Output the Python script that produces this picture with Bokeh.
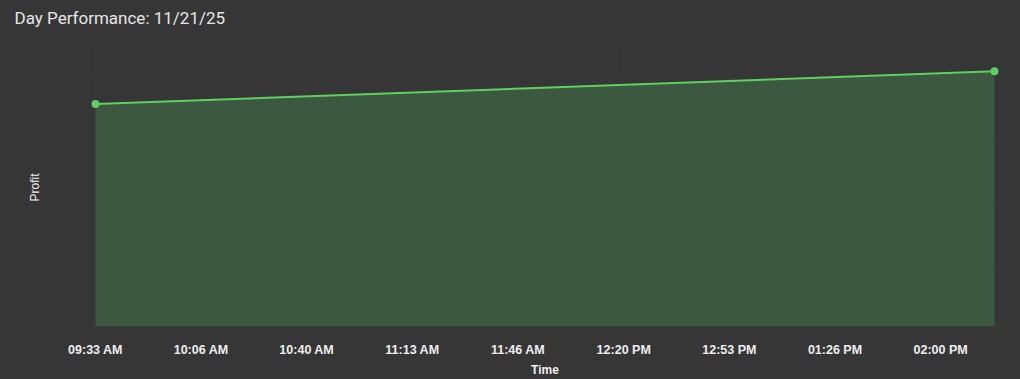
from datetime import datetime, timedelta
from bokeh.plotting import figure
from bokeh.models import FixedTicker, DatetimeTickFormatter, Range1d, Title
from bokeh.embed import file_html
from bokeh.resources import INLINE

# data
times = [datetime(2025, 11, 21, 9, 33, 30), datetime(2025, 11, 21, 14, 17, 18)]
profit = [360.0, 413.0]
tick_times = [datetime(2025, 11, 21, 9, 33, 30) + timedelta(seconds=2001 * i) for i in range(9)]
title_text = "Day Performance: 11/21/25"

BG = "#363636"
pad = timedelta(seconds=190)

p = figure(width=1020, height=379, x_axis_type="datetime", output_backend="svg",
           toolbar_location=None, title=title_text,
           min_border_left=85, min_border_right=16, min_border_top=0, min_border_bottom=51)
p.styles = {"background-color": BG}
p.x_range = Range1d(times[0] - pad, times[-1] + pad)
p.y_range = Range1d(0, 450)
p.background_fill_color = BG
p.border_fill_color = BG

# spacer between title and plot area
spacer = Title(text=" ", text_font_size="12.5px", standoff=0)
p.add_layout(spacer, "above")

p.varea(x=times, y1=[0, 0], y2=profit, fill_color="#3d5840", fill_alpha=1.0)
p.line(times, profit, line_color="#5fcf60", line_width=2)
p.scatter(times, profit, size=8, fill_color="#5fcf60", line_color=None)

p.title.text_color = "#e6e6e6"
p.title.text_font = "Roboto"
p.title.text_font_size = "17px"
p.title.text_font_style = "normal"
p.title.offset = -71

xa = p.xaxis[0]
xa.ticker = FixedTicker(ticks=[t.timestamp() * 1000 for t in tick_times])
xa.formatter = DatetimeTickFormatter(seconds="%I:%M %p", minsec="%I:%M %p", minutes="%I:%M %p",
                                     hourmin="%I:%M %p", hours="%I:%M %p", days="%I:%M %p")
xa.axis_label = "Time"
xa.axis_line_color = None
xa.major_tick_line_color = None
xa.minor_tick_line_color = None
xa.major_tick_out = 0
xa.major_tick_in = 0
xa.minor_tick_out = 0
xa.major_label_text_color = "#eeeeee"
xa.major_label_text_font = "Liberation Sans"
xa.major_label_text_font_size = "12.5px"
xa.major_label_text_font_style = "bold"
xa.major_label_standoff = 16
xa.axis_label_text_color = "#eeeeee"
xa.axis_label_text_font = "Liberation Sans"
xa.axis_label_text_font_size = "12px"
xa.axis_label_text_font_style = "bold"
xa.axis_label_standoff = 3

ya = p.yaxis[0]
ya.axis_label = "Profit"
ya.axis_line_color = None
ya.major_tick_line_color = None
ya.minor_tick_line_color = None
ya.major_tick_out = 0
ya.major_tick_in = 0
ya.minor_tick_out = 0
ya.major_label_text_font_size = "0px"
ya.axis_label_text_color = "#eeeeee"
ya.axis_label_text_font = "Liberation Sans"
ya.axis_label_text_font_size = "12px"
ya.axis_label_text_font_style = "normal"
ya.axis_label_standoff = 44

p.xgrid.grid_line_color = "#ffffff"
p.xgrid.grid_line_alpha = 0.02
p.ygrid.grid_line_color = "#ffffff"
p.ygrid.grid_line_alpha = 0.02

p.outline_line_color = None

open("out.html", "w").write(file_html(p, INLINE))
